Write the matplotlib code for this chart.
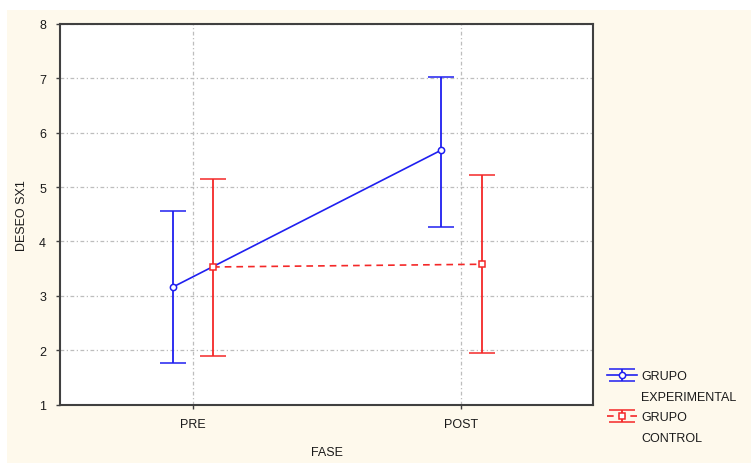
import matplotlib
matplotlib.use("Agg")
import matplotlib.pyplot as plt
from matplotlib.patches import Rectangle
from matplotlib.lines import Line2D

# ---------------------------------------------------------------- data
phases = ["PRE", "POST"]
exp_mean = [3.16, 5.68]
exp_low = [1.76, 4.27]
exp_high = [4.56, 7.03]
ctl_mean = [3.53, 3.58]
ctl_low = [1.90, 1.94]
ctl_high = [5.15, 5.22]

# ---------------------------------------------------------------- style
plt.rcParams["font.family"] = "Liberation Sans"
CREAM = "#FEF9EC"
BLUE = "#1F1FF0"
RED = "#F42828"
SPINE = "#404040"
GRID = "#BDBDBD"
INK = "#1A1A1A"

fig = plt.figure(figsize=(7.51, 4.64), dpi=100)
fig.patch.set_facecolor("white")
fig.add_artist(Rectangle((7 / 751, 0), 1, 1 - 11 / 464, transform=fig.transFigure,
                         facecolor=CREAM, edgecolor="none", zorder=-10))

ax = fig.add_axes([60 / 751, 1 - 405.5 / 464, 533 / 751, 380.5 / 464])
ax.set_facecolor("white")

xs = list(range(len(phases)))
off = 0.075
xe = [x - off for x in xs]
xc = [x + off for x in xs]

def yerr(mean, lo, hi):
    return [[m - l for m, l in zip(mean, lo)], [h - m for m, h in zip(mean, hi)]]

e1 = ax.errorbar(xe, exp_mean, yerr=yerr(exp_mean, exp_low, exp_high),
                 color=BLUE, lw=1.2, ls="-", marker="o", ms=4.5, mfc="white",
                 mec=BLUE, mew=1.1, capsize=9.5, capthick=1.3, elinewidth=1.3,
                 zorder=4)
e2 = ax.errorbar(xc, ctl_mean, yerr=yerr(ctl_mean, ctl_low, ctl_high),
                 color=RED, lw=1.2, ls=(0, (4, 3)), marker="s", ms=4.5,
                 mfc="white", mec=RED, mew=1.1, capsize=9.5, capthick=1.3,
                 elinewidth=1.3, zorder=4)

ax.set_xlim(-0.495, 1.49)
ax.set_ylim(1, 8)
ax.set_xticks(xs)
ax.set_xticklabels(phases)
ax.set_yticks(range(1, 9))
ax.tick_params(labelsize=9, length=3, width=1, color=SPINE, pad=7)
for lab in ax.get_xticklabels() + ax.get_yticklabels():
    lab.set_color(INK)
ax.grid(True, color=GRID, ls=(0, (3, 2, 1, 2)), lw=0.9, zorder=0)
for s in ax.spines.values():
    s.set_color(SPINE)
    s.set_linewidth(1.5)

ax.set_xlabel("FASE", fontsize=9, color=INK, labelpad=11)
ax.set_ylabel("DESEO SX1", fontsize=9, color=INK, labelpad=8)

blank = Line2D([], [], color="none")
fig.legend(handles=[e1, blank, e2, blank],
           labels=["GRUPO", "EXPERIMENTAL", "GRUPO", "CONTROL"],
           loc="upper left", bbox_to_anchor=(601 / 751, 1 - 365 / 464),
           frameon=False, fontsize=9, handlelength=2.4, handletextpad=0.3,
           labelspacing=0.68, borderpad=0, labelcolor=INK)

fig.savefig("out.png", dpi=100)
